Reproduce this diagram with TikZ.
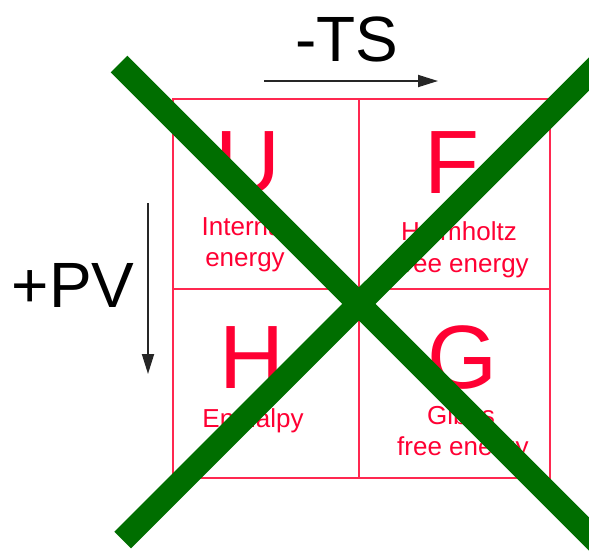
\documentclass[tikz,border=0pt]{standalone}
\usepackage{fontspec}
\setmainfont{Liberation Sans}
\usetikzlibrary{arrows.meta}
\definecolor{boxred}{RGB}{255,40,80}
\definecolor{txtred}{RGB}{255,0,51}
\definecolor{xgreen}{RGB}{0,110,0}
\tikzset{
  big/.style={anchor=base, text=txtred, inner sep=0pt, text depth=0pt, font=\fontsize{90}{90}\selectfont},
  small/.style={anchor=base, text=txtred, inner sep=0pt, font=\fontsize{26}{26}\selectfont},
  axislabel/.style={anchor=base, text=black, inner sep=0pt, font=\fontsize{64}{64}\selectfont},
  axisarrow/.style={draw=black!85, line width=1.8pt, -{Triangle[length=20pt,width=12pt]}},
  grid/.style={draw=boxred, line width=2.3pt},
  cross/.style={draw=xgreen, line width=23.5pt, line cap=butt}
}
\begin{document}
\begin{tikzpicture}[x=1pt,y=-1pt]
\useasboundingbox (0,0) rectangle (589,555);
% grid
\coordinate (tl) at (173,99);
\coordinate (br) at (550,478);
\draw[grid] (tl) rectangle (br);
\coordinate (vt) at (359,99);
\coordinate (vb) at (359,478);
\coordinate (hl) at (173,289);
\coordinate (hr) at (550,289);
\draw[grid] (vt) -- (vb);
\draw[grid] (hl) -- (hr);
% letters
\node[big] (U) at (248,193) {U};
\node[big] (F) at (452,193) {F};
\node[big] (H) at (252,388) {H};
\node[big] (G) at (462,388) {G};
% descriptions
\node[small] (u1) at (245,235) {Internal};
\node[small] (u2) at (245,266) {energy};
\node[small] (f1) at (459,240) {Helmholtz};
\node[small] (f2) at (463,272) {free energy};
\node[small] (h1) at (253,427) {Enthalpy};
\node[small] (g1) at (461,424) {Gibbs};
\node[small] (g2) at (463,455) {free energy};
% axis labels
\node[axislabel] (ts) at (347,61) {-TS};
\node[axislabel] (pv) at (73,307) {+PV};
\coordinate (tsa) at (264,81);
\coordinate (tsb) at (438,81);
\draw[axisarrow] (tsa) -- (tsb);
\coordinate (pva) at (148,203);
\coordinate (pvb) at (148,374);
\draw[axisarrow] (pva) -- (pvb);
% green cross
\coordinate (x1a) at (119,64);
\coordinate (x1b) at (600,545);
\coordinate (x2a) at (122.7,540);
\coordinate (x2b) at (605,58);
\draw[cross] (x1a) -- (x1b);
\draw[cross] (x2a) -- (x2b);
\end{tikzpicture}
\end{document}
